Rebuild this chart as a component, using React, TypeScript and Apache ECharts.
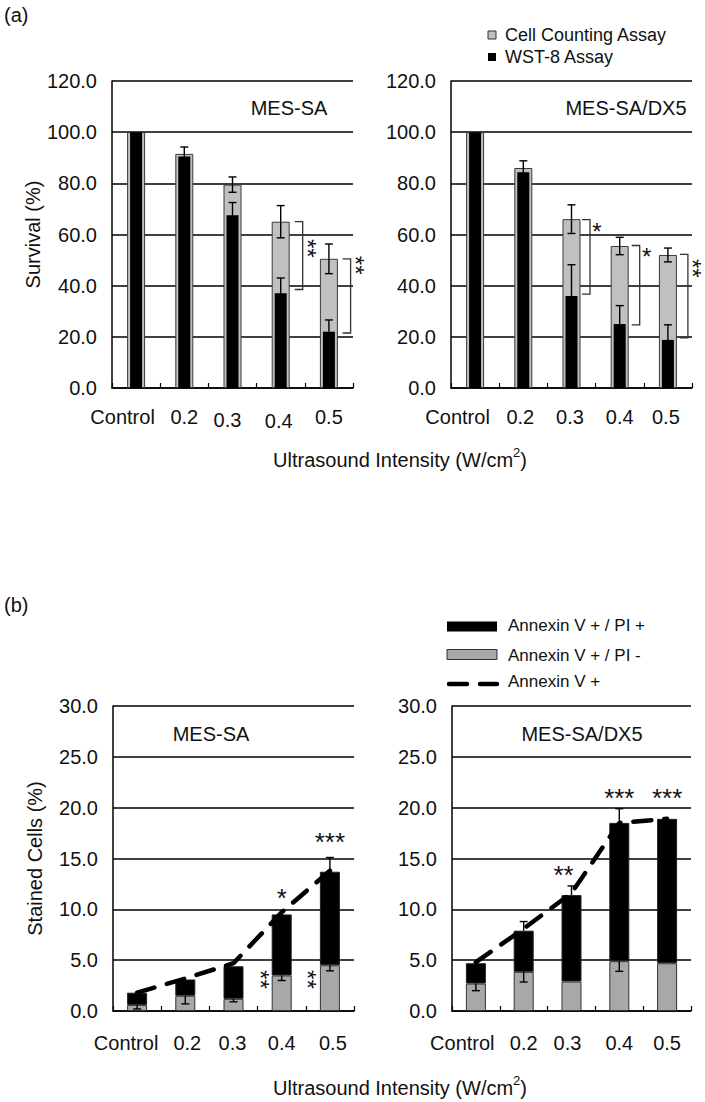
import React, { useEffect, useRef } from 'react';
import * as echarts from 'echarts';

const FONT = '"Liberation Sans", Arial, sans-serif';

const categories = ['Control', '0.2', '0.3', '0.4', '0.5'];

// (a) survival – MES-SA
const cellCountMesSa = [100, 91.5, 79.5, 65, 50.5];
const cellCountMesSaErr = [0, 2.7, 3, 6.3, 5.8];
const wst8MesSa = [100, 90.5, 67.5, 37, 22];
const wst8MesSaErr = [0, 0, 5, 6, 4.6];
// (a) survival – MES-SA/DX5
const cellCountDx5 = [100, 86, 66, 55.5, 52];
const cellCountDx5Err = [0, 2.8, 5.6, 3.4, 2.7];
const wst8Dx5 = [100, 84.3, 36, 25, 18.8];
const wst8Dx5Err = [0, 0, 12.2, 7.2, 5.9];

// (a) significance brackets
const sigCatsMesSaA = [3, 4];
const sigTopMesSaA = [65, 50.5];
const sigBottomMesSaA = [38.5, 21.5];
const sigTextMesSaA = ['**', '**'];
const sigTextAtMesSaA = [54.6, 48];
const sigCatsDx5A = [2, 3, 4];
const sigTopDx5A = [65.8, 55.7, 52.2];
const sigBottomDx5A = [36.7, 24.7, 19.6];
const sigTextDx5A = ['*', '*', '**'];
const sigTextAtDx5A = [62.8, 53, 46.8];

// (b) stained cells – MES-SA
const piNegMesSa = [0.6, 1.5, 1.2, 3.5, 4.5];
const piNegMesSaErr = [0.4, 0.8, 0.3, 0.5, 0.55];
const piPosMesSa = [1.2, 1.6, 3.2, 6.0, 9.2];
const totalMesSaErr = [0, 0, 0, 0, 1.4];
const annexinMesSa = [1.8, 3.2, 4.7, 9.7, 13.8];
// (b) stained cells – MES-SA/DX5
const piNegDx5 = [2.7, 3.85, 2.9, 4.9, 4.7];
const piNegDx5Err = [0.7, 1.0, 0, 1.0, 0];
const piPosDx5 = [2.0, 4.05, 8.5, 13.6, 14.2];
const totalDx5Err = [0, 0.9, 0.9, 1.4, 0];
const annexinDx5 = [4.8, 8.1, 11.6, 18.5, 18.9];

// (b) significance marks
const starCatsMesSaB = [3, 4, 3, 4];
const starValMesSaB = [11.6, 17.1, 3.2, 3.2];
const starTextMesSaB = ['*', '***', '**', '**'];
const starCatsDx5B = [2, 3, 4];
const starValDx5B = [13.85, 21.4, 21.4];
const starTextDx5B = ['**', '***', '***'];

// layout-only offsets (px)
const bracketDxMesSaA = [22, 21.7];
const bracketDxDx5A = [18.5, 20, 20];
const starDxMesSaB = [0, 0, -19.5, -20];
const starVerticalMesSaB = [false, false, true, true];
const starDxDx5B = [-8, 0, 0];
const starVerticalDx5B = [false, false, false];

const labelShift = [
  { dx: [-13.5, 0, -5, -2, 0], dy: [0, 0, 3, 4, 0] },
  { dx: [-17.5, -3, -1.5, 0, -2], dy: [0, 0, 0, 0, 0] },
  { dx: [-11, 2, -1, 0, 3], dy: [0, 0, 0, 0, 0] },
  { dx: [-13.6, 0, -4, 0, 0], dy: [0, 0, 0, 0, 0] },
];

function errRender(params: any, api: any) {
  const c = api.value(0), v = api.value(1), up = api.value(2), dn = api.value(3);
  const cap = 8;
  const mid = api.coord([c, v]);
  const style = { stroke: '#000', lineWidth: 1.4 };
  const children: any[] = [];
  if (up > 0) {
    const t = api.coord([c, v + up]);
    children.push({ type: 'line', shape: { x1: mid[0], y1: mid[1], x2: t[0], y2: t[1] }, style });
    children.push({ type: 'line', shape: { x1: t[0] - cap / 2, y1: t[1], x2: t[0] + cap / 2, y2: t[1] }, style });
  }
  if (dn > 0) {
    const b = api.coord([c, v - dn]);
    children.push({ type: 'line', shape: { x1: mid[0], y1: mid[1], x2: b[0], y2: b[1] }, style });
    children.push({ type: 'line', shape: { x1: b[0] - cap / 2, y1: b[1], x2: b[0] + cap / 2, y2: b[1] }, style });
  }
  return { type: 'group', children };
}

// stacked "**" is drawn as one text turned on its side
function starElement(x: number, y: number, t: string, vertical: boolean, size: number) {
  if (!vertical) {
    return { type: 'text', x, y, style: { text: t, fontSize: size, fontFamily: FONT, fill: '#111', align: 'center', verticalAlign: 'middle' } };
  }
  return {
    type: 'text', x: x - 2, y: y - 4, rotation: -Math.PI / 2,
    style: { text: t, fontSize: size, lineHeight: 14, fontFamily: FONT, fill: '#111', align: 'center', verticalAlign: 'middle' },
  };
}

export default function App() {
  const ref = useRef<HTMLDivElement>(null);
  useEffect(() => {
    if (!ref.current) return;
    const chart = echarts.init(ref.current, undefined, { renderer: 'svg' });

    const grids = [
      { left: 112, top: 81, width: 241, height: 307 },
      { left: 451, top: 81, width: 241, height: 307 },
      { left: 113, top: 706, width: 241, height: 305 },
      { left: 452, top: 706, width: 239, height: 305 },
    ];
    const labelMargins = [19, 19, 22, 22];

    const mainX = grids.map((g, i) => {
      const rich: any = {};
      for (let k = 0; k < 5; k++) {
        const dx = labelShift[i].dx[k], dy = labelShift[i].dy[k];
        rich['c' + k] = {
          fontSize: 20, color: '#111', fontFamily: FONT,
          padding: [dy > 0 ? dy : 0, dx < 0 ? -2 * dx : 0, 0, dx > 0 ? 2 * dx : 0],
        };
      }
      return {
        type: 'category', gridIndex: i, data: categories,
        axisLine: { lineStyle: { color: '#000', width: 1.5 } },
        axisTick: { show: true, inside: true, length: 5, lineStyle: { color: '#000', width: 1.2 } },
        axisLabel: {
          interval: 0,
          hideOverlap: false,
          margin: labelMargins[i],
          formatter: (val: string, idx: number) => `{c${idx}|${val}}`,
          rich,
        },
      };
    });
    const hiddenX = [0, 1].map((i) => ({ type: 'category', gridIndex: i, data: categories, show: false }));

    const yAxes = grids.map((g, i) => ({
      type: 'value', gridIndex: i, min: 0, max: i < 2 ? 120 : 30, interval: i < 2 ? 20 : 5,
      axisLine: { show: true, lineStyle: { color: '#000', width: 1.5 } },
      axisTick: { show: false },
      splitLine: { lineStyle: { color: '#000', width: 1.5 } },
      axisLabel: { fontSize: 20, color: '#111', fontFamily: FONT, margin: 15, formatter: (v: number) => v.toFixed(1) },
      name: i === 0 ? 'Survival (%)' : i === 2 ? 'Stained Cells (%)' : '',
      nameLocation: 'middle', nameRotate: 90, nameGap: i === 0 ? 64 : 68,
      nameTextStyle: { fontSize: 20, color: '#111', fontFamily: FONT },
    }));

    const errData = (vals: number[], errs: number[], up: boolean, dn: boolean) =>
      vals.map((v, i) => [i, v, up ? errs[i] : 0, dn ? errs[i] : 0]);

    const errSeries = (xi: number, yi: number, data: any[]) => ({
      type: 'custom', xAxisIndex: xi, yAxisIndex: yi, renderItem: errRender, data, z: 5,
      encode: { x: 0, y: 1 }, silent: true,
    });

    const bracketSeries = (xi: number, cats: number[], tops: number[], bots: number[], texts: string[], at: number[], dxs: number[]) => ({
      type: 'custom', xAxisIndex: xi, yAxisIndex: xi, z: 6, silent: true,
      encode: { x: 0, y: 1 },
      data: cats.map((c, i) => [c, tops[i], bots[i], at[i]]),
      renderItem: (params: any, api: any) => {
        const i = params.dataIndex;
        const c = api.value(0);
        const pt = api.coord([c, api.value(1)]);
        const pb = api.coord([c, api.value(2)]);
        const pl = api.coord([c, api.value(3)]);
        const x = pt[0] + dxs[i];
        return {
          type: 'group', children: [
            { type: 'polyline', shape: { points: [[x - 8, pt[1]], [x, pt[1]], [x, pb[1]], [x - 8, pb[1]]] }, style: { stroke: '#333', lineWidth: 1.3, fill: 'none' } },
            starElement(x + 7, pl[1] + 4, texts[i], texts[i].length > 1, 24),
          ],
        };
      },
    });

    const starSeries = (xi: number, cats: number[], vals: number[], texts: string[], dxs: number[], vert: boolean[]) => ({
      type: 'custom', xAxisIndex: xi, yAxisIndex: xi, z: 6, silent: true,
      encode: { x: 0, y: 1 },
      data: cats.map((c, i) => [c, vals[i]]),
      renderItem: (params: any, api: any) => {
        const i = params.dataIndex;
        const p = api.coord([api.value(0), api.value(1)]);
        return starElement(p[0] + dxs[i], p[1] + 5, texts[i], vert[i], vert[i] ? 24 : 26);
      },
    });

    const grayA = { color: '#c0c0c0', borderColor: '#3a3a3a', borderWidth: 1 };
    const grayB = { color: '#a8a8a8', borderColor: '#333', borderWidth: 1 };
    const black = { color: '#000' };

    const sum = (a: number[], b: number[]) => a.map((v, i) => v + b[i]);

    const series: any[] = [
      // (a) left
      { type: 'bar', name: 'Cell Counting Assay', xAxisIndex: 0, yAxisIndex: 0, data: cellCountMesSa, barWidth: 18, itemStyle: grayA },
      { type: 'bar', name: 'WST-8 Assay', xAxisIndex: 4, yAxisIndex: 0, data: wst8MesSa, barWidth: 12, itemStyle: black },
      errSeries(0, 0, errData(cellCountMesSa, cellCountMesSaErr, true, true)),
      errSeries(4, 0, errData(wst8MesSa, wst8MesSaErr, true, true)),
      bracketSeries(0, sigCatsMesSaA, sigTopMesSaA, sigBottomMesSaA, sigTextMesSaA, sigTextAtMesSaA, bracketDxMesSaA),
      // (a) right
      { type: 'bar', name: 'Cell Counting Assay', xAxisIndex: 1, yAxisIndex: 1, data: cellCountDx5, barWidth: 18, itemStyle: grayA },
      { type: 'bar', name: 'WST-8 Assay', xAxisIndex: 5, yAxisIndex: 1, data: wst8Dx5, barWidth: 12, itemStyle: black },
      errSeries(1, 1, errData(cellCountDx5, cellCountDx5Err, true, true)),
      errSeries(5, 1, errData(wst8Dx5, wst8Dx5Err, true, true)),
      bracketSeries(1, sigCatsDx5A, sigTopDx5A, sigBottomDx5A, sigTextDx5A, sigTextAtDx5A, bracketDxDx5A),
      // (b) left
      { type: 'bar', name: 'Annexin V + / PI -', xAxisIndex: 2, yAxisIndex: 2, stack: 'l', data: piNegMesSa, barWidth: 20, itemStyle: grayB },
      { type: 'bar', name: 'Annexin V + / PI +', xAxisIndex: 2, yAxisIndex: 2, stack: 'l', data: piPosMesSa, barWidth: 20, itemStyle: { color: '#000', borderColor: '#222', borderWidth: 1 } },
      { type: 'line', name: 'Annexin V +', xAxisIndex: 2, yAxisIndex: 2, data: annexinMesSa, symbol: 'none', z: 4, lineStyle: { color: '#000', width: 4.5, type: [18, 13], cap: 'round' } },
      errSeries(2, 2, errData(piNegMesSa, piNegMesSaErr, false, true)),
      errSeries(2, 2, errData(sum(piNegMesSa, piPosMesSa), totalMesSaErr, true, false)),
      starSeries(2, starCatsMesSaB, starValMesSaB, starTextMesSaB, starDxMesSaB, starVerticalMesSaB),
      // (b) right
      { type: 'bar', name: 'Annexin V + / PI -', xAxisIndex: 3, yAxisIndex: 3, stack: 'r', data: piNegDx5, barWidth: 20, itemStyle: grayB },
      { type: 'bar', name: 'Annexin V + / PI +', xAxisIndex: 3, yAxisIndex: 3, stack: 'r', data: piPosDx5, barWidth: 20, itemStyle: { color: '#000', borderColor: '#222', borderWidth: 1 } },
      { type: 'line', name: 'Annexin V +', xAxisIndex: 3, yAxisIndex: 3, data: annexinDx5, symbol: 'none', z: 4, lineStyle: { color: '#000', width: 4.5, type: [18, 13], cap: 'round' } },
      errSeries(3, 3, errData(piNegDx5, piNegDx5Err, false, true)),
      errSeries(3, 3, errData(sum(piNegDx5, piPosDx5), totalDx5Err, true, false)),
      starSeries(3, starCatsDx5B, starValDx5B, starTextDx5B, starDxDx5B, starVerticalDx5B),
    ];

    const txt = (x: number, y: number, text: string, size: number, align = 'left') => ({
      type: 'text', x, y, style: { text, fontSize: size, fontFamily: FONT, fill: '#111', align, verticalAlign: 'middle' },
    });
    const axisTitle = (y: number) => ({
      type: 'text', x: 400, y,
      style: {
        text: '{n|Ultrasound Intensity (W/cm}{s|2}{n|)}', align: 'center', verticalAlign: 'middle',
        rich: {
          n: { fontSize: 20, fontFamily: FONT, fill: '#111', lineHeight: 24, verticalAlign: 'bottom' },
          s: { fontSize: 13, fontFamily: FONT, fill: '#111', lineHeight: 24, verticalAlign: 'top' },
        },
      },
    });

    const graphic: any[] = [
      txt(4, 15, '(a)', 20),
      txt(4, 605, '(b)', 20),
      txt(289, 108, 'MES-SA', 20, 'center'),
      txt(626, 108, 'MES-SA/DX5', 20, 'center'),
      txt(211, 734, 'MES-SA', 20, 'center'),
      txt(582, 734, 'MES-SA/DX5', 20, 'center'),
      axisTitle(458),
      axisTitle(1086),
      // legend (a)
      { type: 'rect', shape: { x: 488, y: 31, width: 8, height: 8 }, style: { fill: '#c0c0c0', stroke: '#333', lineWidth: 1 } },
      txt(505, 35, 'Cell Counting Assay', 18),
      { type: 'rect', shape: { x: 488, y: 53, width: 8, height: 8 }, style: { fill: '#000' } },
      txt(505, 57, 'WST-8 Assay', 18),
      // legend (b)
      { type: 'rect', shape: { x: 447, y: 621.5, width: 50, height: 10 }, style: { fill: '#000' } },
      txt(508, 625, 'Annexin V + / PI +', 17),
      { type: 'rect', shape: { x: 447, y: 649.5, width: 50, height: 10 }, style: { fill: '#a8a8a8', stroke: '#333', lineWidth: 1 } },
      txt(508, 655, 'Annexin V + / PI -', 17),
      { type: 'line', shape: { x1: 449, y1: 684, x2: 497, y2: 684 }, style: { stroke: '#000', lineWidth: 4.5, lineDash: [18, 13], lineCap: 'round' } },
      txt(508, 681, 'Annexin V +', 17),
    ];

    chart.setOption({
      animation: false,
      backgroundColor: '#fff',
      textStyle: { fontFamily: FONT },
      grid: grids,
      xAxis: [...mainX, ...hiddenX],
      yAxis: yAxes,
      series,
      graphic,
    });
    return () => chart.dispose();
  }, []);
  return <div ref={ref} style={{ position: 'fixed', left: 0, top: 0, width: 705, height: 1102, background: '#fff' }} />;
}
